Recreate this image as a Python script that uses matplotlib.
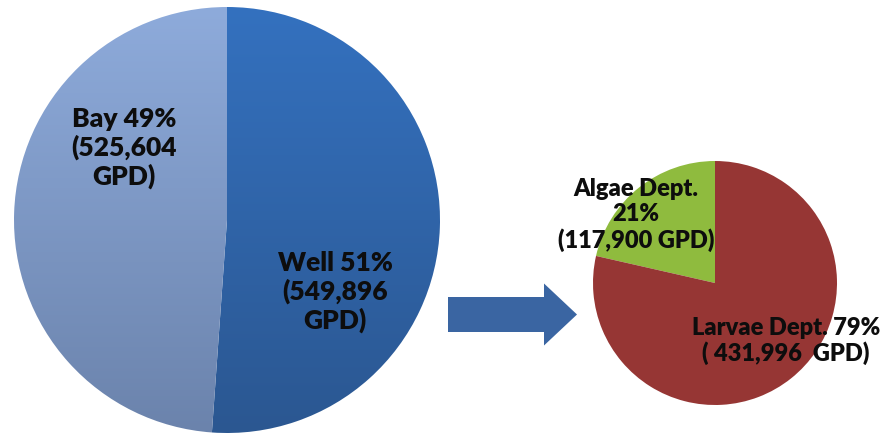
import matplotlib.pyplot as plt
from matplotlib.colors import LinearSegmentedColormap
from matplotlib.patches import FancyArrow
import numpy as np

# water sources (gallons per day)
source_names = ["Well", "Bay"]
source_gpd = [549896, 525604]
source_top = ["#3471BF", "#8EABDB"]
source_bottom = ["#2B5791", "#6B83AC"]

# where the well water goes
use_names = ["Algae Dept.", "Larvae Dept."]
use_gpd = [117900, 431996]
use_colors = ["#8FBB3E", "#963634"]

W, H = 889, 440
fig = plt.figure(figsize=(W / 100, H / 100), dpi=100)
ax = fig.add_axes([0, 0, 1, 1])
ax.set_xlim(0, W)
ax.set_ylim(0, H)
ax.set_aspect("equal")
ax.axis("off")

font = dict(family=["Lato", "DejaVu Sans"], fontweight="heavy", color="#0d0d0d",
            ha="center", va="center", linespacing=1.15)

# big pie: sources
big_c, big_r = (227, 220), 213
wedges, _ = ax.pie(source_gpd, center=big_c, radius=big_r, startangle=90,
                   counterclock=False, frame=True,
                   wedgeprops=dict(linewidth=0))
grad = np.linspace(1, 0, 256).reshape(-1, 1)
for w, top, bot in zip(wedges, source_top, source_bottom):
    w.set_facecolor("none")
    cmap = LinearSegmentedColormap.from_list("g", [bot, top])
    im = ax.imshow(grad, cmap=cmap, aspect="auto", origin="upper",
                   extent=[big_c[0] - big_r, big_c[0] + big_r,
                           big_c[1] - big_r, big_c[1] + big_r], zorder=1)
    im.set_clip_path(w)

src_total = sum(source_gpd)
src_pct = [round(100 * v / src_total) for v in source_gpd]
ax.text(335, 148, f"{source_names[0]} {src_pct[0]}%\n({source_gpd[0]:,}\nGPD)",
        fontsize=19, zorder=3, **font)
ax.text(124, 292, f"{source_names[1]} {src_pct[1]}%\n({source_gpd[1]:,}\nGPD)",
        fontsize=19, zorder=3, **font)

# arrow
ax.add_patch(FancyArrow(448, H - 314.5, 129, 0, width=35, head_width=62,
                        head_length=33, length_includes_head=True,
                        color="#3A65A2", linewidth=0, zorder=2))

# small pie: uses
sm_c, sm_r = (715, H - 283), 122
ax.pie(use_gpd, center=sm_c, radius=sm_r, startangle=90, counterclock=True,
       colors=use_colors, frame=True, wedgeprops=dict(linewidth=0))
use_total = sum(use_gpd)
use_pct = [round(100 * v / use_total) for v in use_gpd]
ax.text(636, H - 215, f"{use_names[0]}\n{use_pct[0]}%\n({use_gpd[0]:,} GPD)",
        fontsize=17, zorder=3, **font)
ax.text(786, H - 341, f"{use_names[1]} {use_pct[1]}%\n( {use_gpd[1]:,}  GPD)",
        fontsize=17, zorder=3, **font)

ax.set_xlim(0, W)
ax.set_ylim(0, H)
ax.axis("off")
fig.savefig("out.png", dpi=100, facecolor="white")
